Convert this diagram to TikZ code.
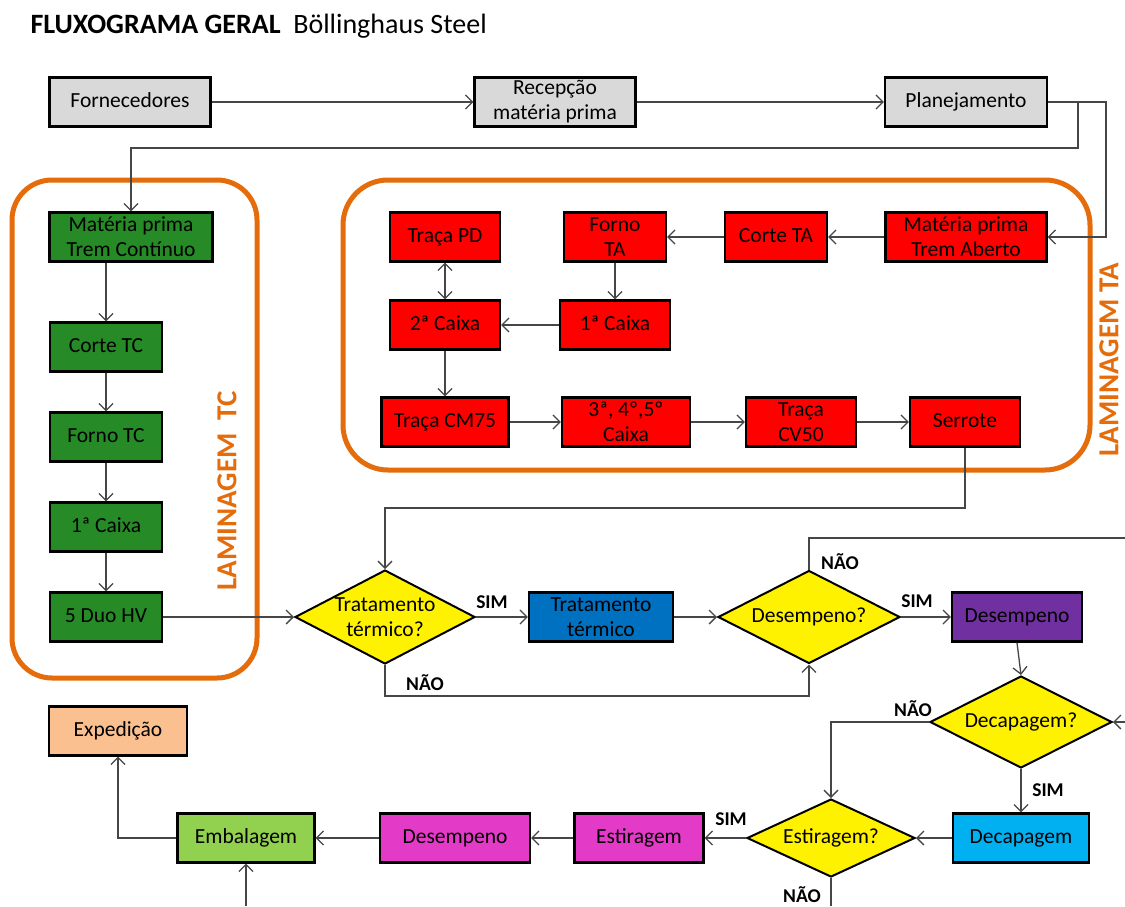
\documentclass[tikz,border=0pt]{standalone}
\usepackage{fontspec}
\setmainfont{Carlito}
\usetikzlibrary{shapes.geometric,arrows.meta}

\definecolor{boxgray}{RGB}{217,217,217}
\definecolor{tcgreen}{RGB}{38,138,38}
\definecolor{frameorange}{RGB}{228,108,10}
\definecolor{linegray}{RGB}{70,70,70}
\definecolor{tratblue}{RGB}{0,112,192}
\definecolor{despurple}{RGB}{112,48,160}
\definecolor{deccyan}{RGB}{0,176,240}
\definecolor{estmagenta}{RGB}{228,58,200}
\definecolor{embgreen}{RGB}{146,208,80}
\definecolor{exppeach}{RGB}{250,192,144}

\begin{document}
\begin{tikzpicture}[x=1pt,y=-1pt,>={Straight Barb[length=7pt,width=14pt]},
  box/.style={draw=black,line width=2.2pt,minimum height=49pt,inner sep=1pt,align=center,font=\fontsize{21.5}{25}\selectfont},
  one/.style={text height=15pt,text depth=5pt},
  ask/.style={diamond,draw=black,line width=2pt,fill=yellow,inner xsep=-18pt,inner ysep=-9pt,align=center,font=\fontsize{21.5}{25}\selectfont},
  flow/.style={draw=linegray,line width=1.3pt,->},
  link/.style={draw=linegray,line width=1.3pt},
  frame/.style={draw=frameorange,line width=5pt},
  tag/.style={font=\bfseries\fontsize{19.5}{21}\selectfont},
  side/.style={text=frameorange,font=\bfseries\fontsize{29}{31}\selectfont,rotate=90}]
  \useasboundingbox (0,0) rectangle (1125,906);

  % title
  \node[anchor=base west] (title) at (27,33) {\fontsize{28}{31}\selectfont\textbf{FLUXOGRAMA GERAL}\ \ Böllinghaus Steel};

  % frames
  \draw[frame,rounded corners=40pt] (12,180) rectangle (257,678);
  \draw[frame,rounded corners=45pt] (343,180) rectangle (1090,470);
  \node[side] (lamtc) at (227,491) {LAMINAGEM\ \ TC};
  \node[side] (lamta) at (1109,360) {LAMINAGEM TA};

  % top row
  \node[box,one,fill=boxgray,minimum width=161pt] (forn) at (130,102) {Fornecedores};
  \node[box,fill=boxgray,minimum width=161pt] (recep) at (555,102) {Recepção\\matéria prima};
  \node[box,one,fill=boxgray,minimum width=162pt] (plan) at (966,102) {Planejamento};

  % trem continuo
  \node[box,fill=tcgreen,minimum width=163pt] (mtc) at (131,237) {Matéria prima\\Trem Contínuo};
  \node[box,one,fill=tcgreen,minimum width=112pt] (ctc) at (106,347) {Corte TC};
  \node[box,one,fill=tcgreen,minimum width=112pt] (ftc) at (106,437) {Forno TC};
  \node[box,one,fill=tcgreen,minimum width=112pt] (cxtc) at (106,527) {1ª Caixa};
  \node[box,one,fill=tcgreen,minimum width=112pt] (duo) at (106,617) {5 Duo HV};

  % trem aberto
  \node[box,one,fill=red,minimum width=110pt] (tpd) at (445,237) {Traça PD};
  \node[box,fill=red,minimum width=102pt] (fta) at (615,237) {Forno\\TA};
  \node[box,one,fill=red,minimum width=102pt] (cta) at (776,237) {Corte TA};
  \node[box,fill=red,minimum width=161pt] (mta) at (966,237) {Matéria prima\\Trem Aberto};
  \node[box,one,fill=red,minimum width=110pt] (cx2) at (445,325) {2ª Caixa};
  \node[box,one,fill=red,minimum width=110pt] (cx1) at (615,325) {1ª Caixa};
  \node[box,one,fill=red,minimum width=127pt] (tcm) at (445,422) {Traça CM75};
  \node[box,fill=red,minimum width=128pt] (cx345) at (626,422) {3ª, 4º,5º\\Caixa};
  \node[box,fill=red,minimum width=110pt] (tcv) at (801,422) {Traça\\CV50};
  \node[box,one,fill=red,minimum width=110pt] (serr) at (965,422) {Serrote};

  % acabamento
  \node[ask,minimum width=180pt,minimum height=94pt] (ttq) at (385,617) {Tratamento\\térmico?};
  \node[box,fill=tratblue,minimum width=144pt] (tt) at (601,617) {Tratamento\\térmico};
  \node[ask,one,minimum width=182pt,minimum height=93pt] (desq) at (809,617) {Desempeno?};
  \node[box,one,fill=despurple,minimum width=130pt] (des) at (1017,617) {Desempeno};
  \node[ask,one,minimum width=182pt,minimum height=92pt] (decq) at (1021,722) {Decapagem?};
  \node[box,one,fill=deccyan,minimum width=136pt] (dec) at (1021,838) {Decapagem};
  \node[ask,one,minimum width=168pt,minimum height=78pt] (estq) at (831,838) {Estiragem?};
  \node[box,one,fill=estmagenta,minimum width=129pt] (est) at (639,838) {Estiragem};
  \node[box,one,fill=estmagenta,minimum width=150pt] (des2) at (455,838) {Desempeno};
  \node[box,one,fill=embgreen,minimum width=137pt] (emb) at (246,838) {Embalagem};
  \node[box,one,fill=exppeach,minimum width=138pt] (exp) at (118,731) {Expedição};

  \coordinate (c1) at (1078,148);
  \coordinate (c2) at (1106,180);
  \coordinate (c3) at (600,508);
  \coordinate (c4) at (600,696);
  \coordinate (c5) at (1125,538);
  \coordinate (c6) at (1125,722);
  \coordinate (c7) at (246,906);
  \coordinate (c8) at (831,906);

  % connectors
  \draw[flow] (forn) -- (recep);
  \draw[flow] (recep) -- (plan);
  \draw[flow] (plan.east) -| (c1) -| (mtc.north);
  \draw[flow] (plan.east) -| (c2) |- (mta.east);
  \draw[flow] (ctc.north |- mtc.south) -- (ctc.north);
  \draw[flow] (ctc) -- (ftc);
  \draw[flow] (ftc) -- (cxtc);
  \draw[flow] (cxtc) -- (duo);
  \draw[flow] (duo) -- (ttq.west);
  \draw[flow] (mta) -- (cta);
  \draw[flow] (cta) -- (fta);
  \draw[flow] (fta) -- (cx1);
  \draw[flow] (cx1) -- (cx2);
  \draw[flow,<->] (tpd) -- (cx2);
  \draw[flow] (cx2) -- (tcm);
  \draw[flow] (tcm) -- (cx345);
  \draw[flow] (cx345) -- (tcv);
  \draw[flow] (tcv) -- (serr);
  \draw[flow] (serr.south) |- (c3) -| (ttq.north);
  \draw[flow] (ttq.east) -- (tt);
  \draw[flow] (ttq.south) |- (c4) -| (desq.south);
  \draw[flow] (tt) -- (desq.west);
  \draw[flow] (desq.east) -- (des);
  \draw[link] (desq.north) |- (c5);
  \draw[flow] (des.south) -- (decq.north);
  \draw[flow] (c6) -- (decq.east);
  \draw[flow] (decq.west) -| (estq.north);
  \draw[flow] (decq.south) -- (dec);
  \draw[flow] (dec) -- (estq.east);
  \draw[flow] (estq.west) -- (est);
  \draw[flow] (est) -- (des2);
  \draw[flow] (des2) -- (emb);
  \draw[flow] (emb.west) -| (exp.south);
  \draw[flow] (c7) -- (emb.south);
  \draw[link] (estq.south) -- (c8);

  % labels
  \node[tag] (sim1) at (492,602) {SIM};
  \node[tag] (nao1) at (425,683) {NÃO};
  \node[tag] (sim2) at (917,601) {SIM};
  \node[tag] (nao2) at (840,562) {NÃO};
  \node[tag] (nao3) at (913,709) {NÃO};
  \node[tag] (sim3) at (1048,790) {SIM};
  \node[tag] (sim4) at (731,819) {SIM};
  \node[tag] (nao4) at (802,895) {NÃO};
\end{tikzpicture}
\end{document}
